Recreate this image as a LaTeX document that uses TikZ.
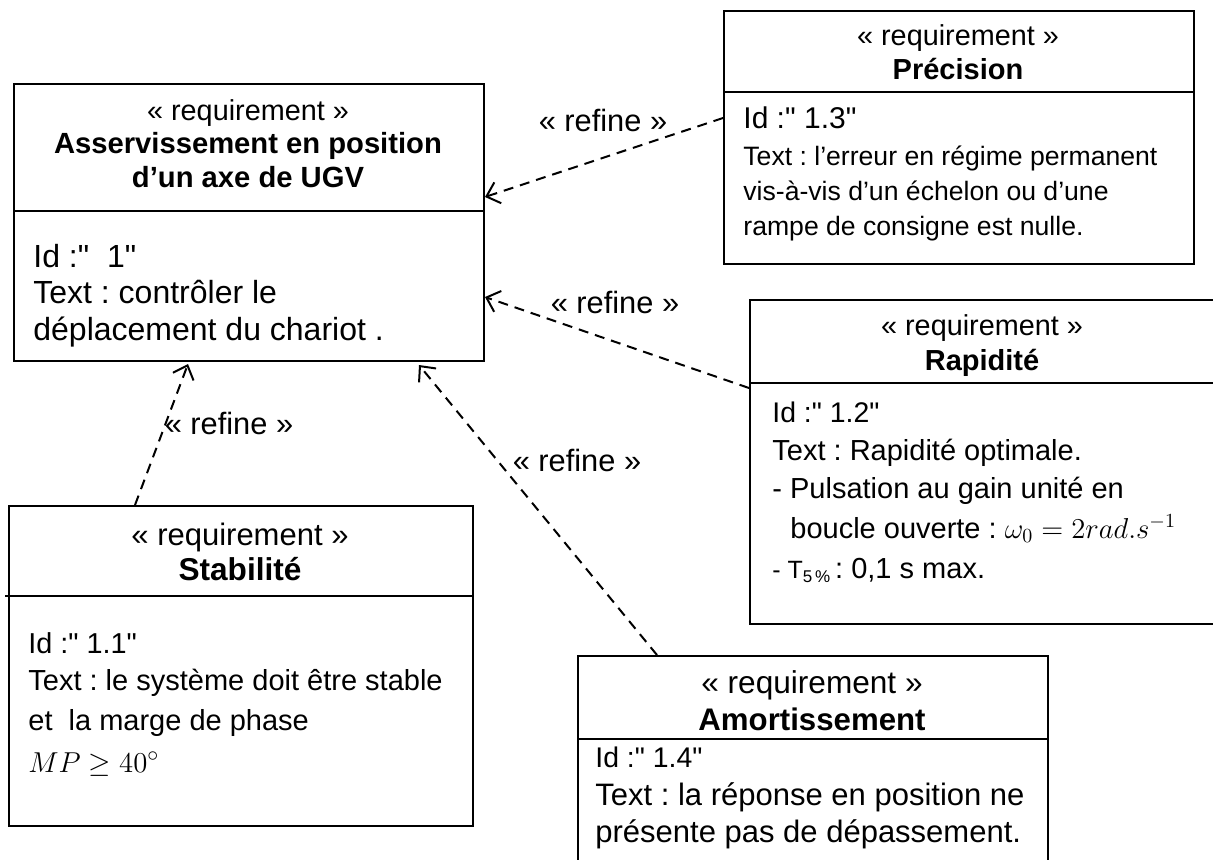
\documentclass[tikz,border=0pt]{standalone}
\usepackage{fontspec}
\setmainfont{Liberation Sans}[Ligatures=TeXOff]
\usetikzlibrary{arrows.meta,calc}
\newcommand{\setfs}[1]{\fontsize{#1}{#1}\selectfont}
\frenchspacing
\begin{document}
\begin{tikzpicture}[x=0.5pt,y=-0.5pt,
  box/.style={draw,line width=1pt,rectangle,inner sep=0pt,anchor=north west},
  rule/.style={line width=1pt},
  txt/.style={inner sep=0pt,anchor=base west},
  ctr/.style={inner sep=0pt,anchor=base},
  refine/.style={line width=1pt,dash pattern=on 5pt off 3.5pt,
    -{Straight Barb[length=6pt,width=11pt,line width=1pt]}},
  lbl/.style={inner sep=0pt,font=\setfs{15.4}}
]
\useasboundingbox (0,0) rectangle (1213,859);
\clip (0,0) rectangle (1213,859);

% requirement boxes
\node[box,minimum width=235pt,minimum height=138.5pt] (main) at (13,83) {};
\node[box,minimum width=235pt,minimum height=126.5pt] (prec) at (723,10) {};
\node[box,minimum width=240pt,minimum height=162pt] (rapid) at (749,299) {};
\node[box,minimum width=232pt,minimum height=160pt] (stab) at (8,505) {};
\node[box,minimum width=235pt,minimum height=115pt] (amort) at (577,655) {};

% compartment separators
\draw[rule] (main.west |- 0,211) -- (main.east |- 0,211);
\draw[rule] (prec.west |- 0,92) -- (prec.east |- 0,92);
\draw[rule] (rapid.west |- 0,383) -- (rapid.east |- 0,383);
\draw[rule] (5,596) -- (stab.east |- 0,596);
\draw[rule] (amort.west |- 0,739) -- (amort.east |- 0,739);

% main requirement
\node[ctr,font=\setfs{14.4}] (mst) at (248,120) {« requirement »};
\node[ctr,font=\setfs{14.6}\bfseries] (mt1) at (248,153) {Asservissement en position};
\node[ctr,font=\setfs{14.6}\bfseries] (mt2) at (248,187) {d’un axe de UGV};
\node[txt,font=\setfs{16}] (mid) at (33,267) {Id :"\ \ 1"};
\node[txt,font=\setfs{16}] (mtx1) at (33,303) {Text : contrôler le};
\node[txt,font=\setfs{16}] (mtx2) at (33,340) {déplacement du chariot .};

% Précision
\node[ctr,font=\setfs{14.4}] (pst) at (958,45) {« requirement »};
\node[ctr,font=\setfs{14.5}\bfseries] (pt) at (958,79) {Précision};
\node[txt,font=\setfs{15}] (pid) at (743,128) {Id :" 1.3"};
\node[txt,font=\setfs{13.3}] (ptx1) at (743,165) {Text : l’erreur en régime permanent};
\node[txt,font=\setfs{13.3}] (ptx2) at (743,200) {vis-à-vis d’un échelon ou d’une};
\node[txt,font=\setfs{13.3}] (ptx3) at (743,235) {rampe de consigne est nulle.};

% Rapidité
\node[ctr,font=\setfs{14.4}] (rst) at (982,335) {« requirement »};
\node[ctr,font=\setfs{14.5}\bfseries] (rt) at (982,370) {Rapidité};
\node[txt,font=\setfs{14.2}] (rid) at (772,422) {Id :" 1.2"};
\node[txt,font=\setfs{14.5}] (rtx1) at (772,460) {Text : Rapidité optimale.};
\node[txt,font=\setfs{14.5}] (rtx2) at (772,498) {- Pulsation au gain unité en};
\node[txt,font=\setfs{14.5}] (rtx3) at (790,538) {boucle ouverte : $\omega_0 = 2rad.s^{-1}$};
\node[txt,font=\setfs{14.5}] (rtx4) at (772,578)
  {{\setfs{12.5}- T\raisebox{-0.35ex}{\setfs{8.5}5\,\%}}\,: 0,1 s max.};

% Stabilité
\node[ctr,font=\setfs{15.5}] (sst) at (240,545) {« requirement »};
\node[ctr,font=\setfs{15.8}\bfseries] (st) at (240,580) {Stabilité};
\node[txt,font=\setfs{14.4}] (sid) at (28,653) {Id :" 1.1"};
\node[txt,font=\setfs{14.5}] (stx1) at (28,690) {Text : le système doit être stable};
\node[txt,font=\setfs{14.5}] (stx2) at (28,730) {et\ \ la marge de phase};
\node[txt,font=\setfs{15.5}] (stx3) at (28,772) {$MP \geq 40^\circ$};

% Amortissement
\node[ctr,font=\setfs{15.8}] (ast) at (812,693) {« requirement »};
\node[ctr,font=\setfs{15.6}\bfseries] (at) at (812,730) {Amortissement};
\node[txt,font=\setfs{14.2}] (aid) at (595,767) {Id :" 1.4"};
\node[txt,font=\setfs{15.5}] (atx1) at (595,805) {Text : la réponse en position ne};
\node[txt,font=\setfs{15.5}] (atx2) at (595,842) {présente pas de dépassement.};

% refine dependencies
\draw[refine] ($(prec.north west)+(0,108)$) -- ($(main.north east)+(0,114)$);
\draw[refine] ($(rapid.north west)+(0,89)$) -- ($(main.north east)+(0,214)$);
\draw[refine] ($(stab.north west)+(127,0)$) -- ($(main.south west)+(175,2)$);
\draw[refine] ($(amort.north west)+(80,0)$) -- ($(main.south west)+(406,3)$);

\node[lbl] (l1) at (603,120) {« refine »};
\node[lbl] (l2) at (615,302) {« refine »};
\node[lbl] (l3) at (229,423) {« refine »};
\node[lbl] (l4) at (577,460) {« refine »};
\end{tikzpicture}
\end{document}
